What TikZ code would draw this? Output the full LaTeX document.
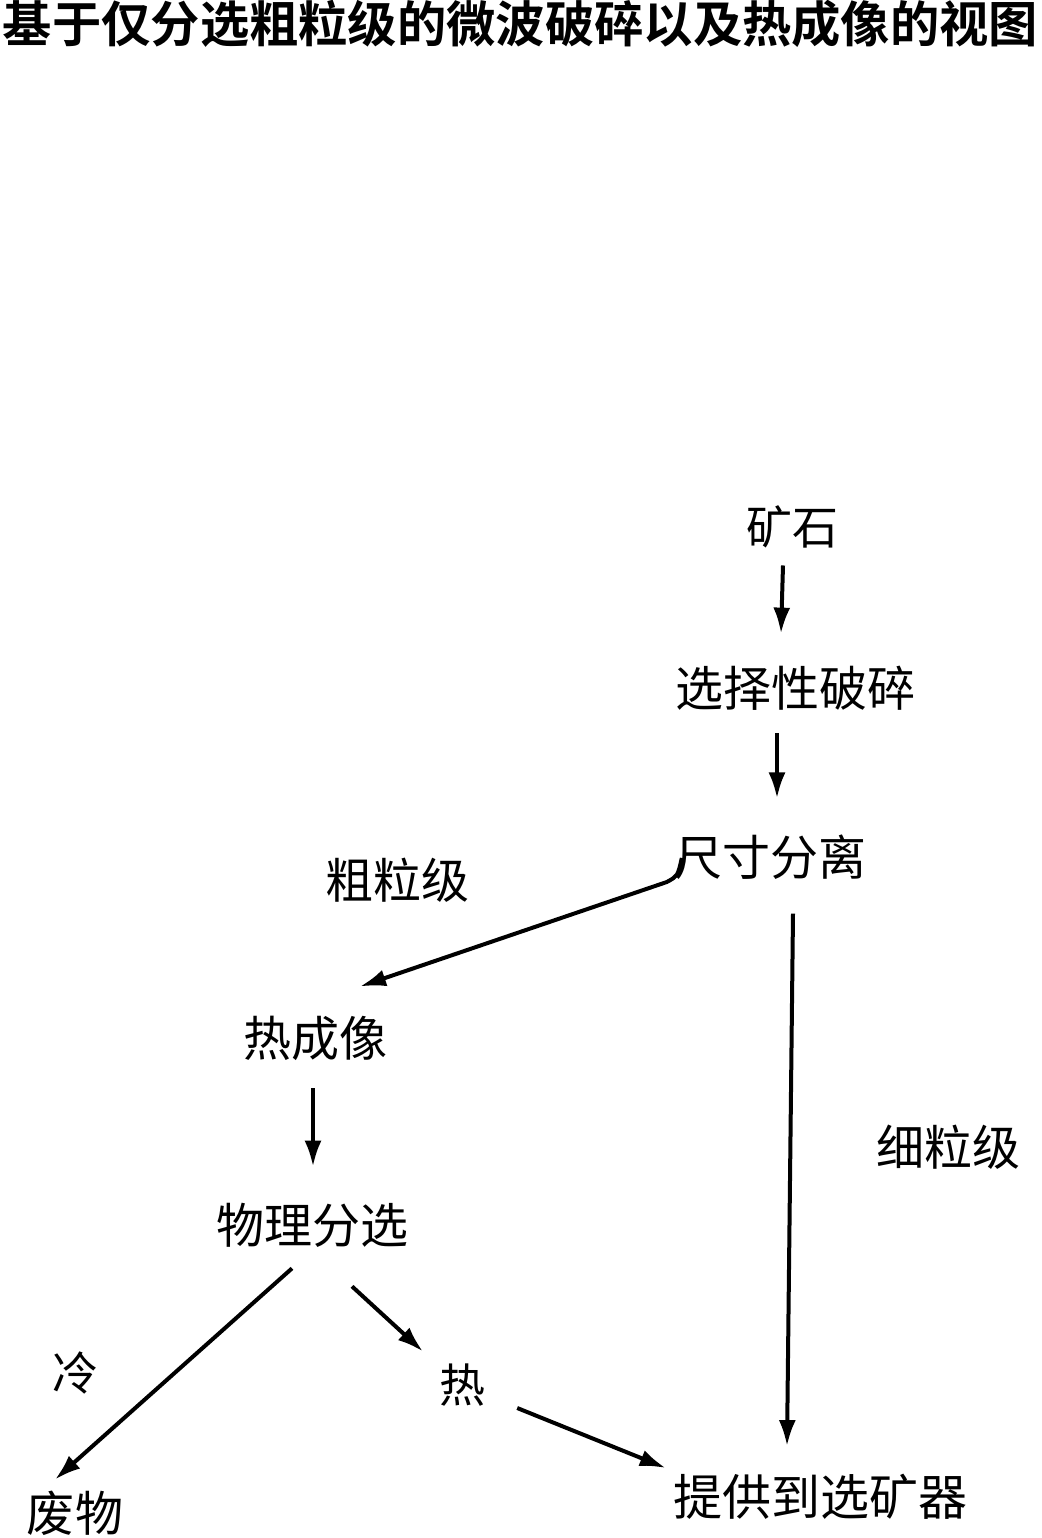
\documentclass[tikz,border=0pt]{standalone}
\usepackage{fontspec}
\newfontfamily\cjk{Noto Sans CJK SC}
\newfontfamily\cjkb{Noto Sans CJK SC Bold}
\usetikzlibrary{arrows.meta}
\tikzset{
  lbl/.style={inner sep=0pt, font=\cjk\fontsize{48}{48}\selectfont},
  ttl/.style={inner sep=0pt, font=\cjkb\fontsize{49.3}{49.3}\selectfont},
  arr/.style={line width=4pt, -{Latex[length=26pt,width=17pt]}}
}
\begin{document}
\begin{tikzpicture}[x=1pt,y=-1pt]
\useasboundingbox[fill=white] (0,0) rectangle (1041,1538);
\node[ttl] (title) at (520.5,24) {基于仅分选粗粒级的微波破碎以及热成像的视图};
\node[lbl, font=\cjk\fontsize{46}{46}\selectfont] (ore) at (792,527) {矿石};
\node[lbl] (sel) at (795,688) {选择性破碎};
\node[lbl] (size) at (770,857) {尺寸分离};
\node[lbl] (coarse) at (397,880) {粗粒级};
\node[lbl] (thermal) at (315,1038) {热成像};
\node[lbl] (phys) at (312,1225) {物理分选};
\node[lbl, font=\cjk\fontsize{46}{46}\selectfont] (cold) at (75,1373) {冷};
\node[lbl, font=\cjk\fontsize{46}{46}\selectfont] (hot) at (462,1385) {热};
\node[lbl] (waste) at (75,1513) {废物};
\node[lbl, font=\cjk\fontsize{49}{49}\selectfont] (conc) at (820,1497) {提供到选矿器};
\node[lbl] (fine) at (948,1147) {细粒级};

\draw[arr] ([shift={(-9,17)}]ore.south) -- ([shift={(-14,-32)}]sel.north);
\draw[arr] ([shift={(-18,23)}]sel.south) -- ([shift={(7,-36)}]size.north);
\draw[arr] ([shift={(8,1)}]size.west) .. controls ([shift={(4,19)}]size.west) .. ([shift={(-7,25)}]size.west) -- ([shift={(45,-29)}]thermal.north);
\draw[arr] ([shift={(-2,28)}]thermal.south) -- ([shift={(1,-36)}]phys.north);
\draw[arr] ([shift={(-20,21)}]phys.south) -- ([shift={(-20,-11)}]waste.north);
\draw[arr] ([shift={(40,39)}]phys.south) -- ([shift={(-39,-12)}]hot.north);
\draw[arr] ([shift={(32,23)}]hot.east) -- ([shift={(-7,-29)}]conc.west);
\draw[arr] ([shift={(23,34)}]size.south) -- ([shift={(-33,-28)}]conc.north);
\end{tikzpicture}
\end{document}
